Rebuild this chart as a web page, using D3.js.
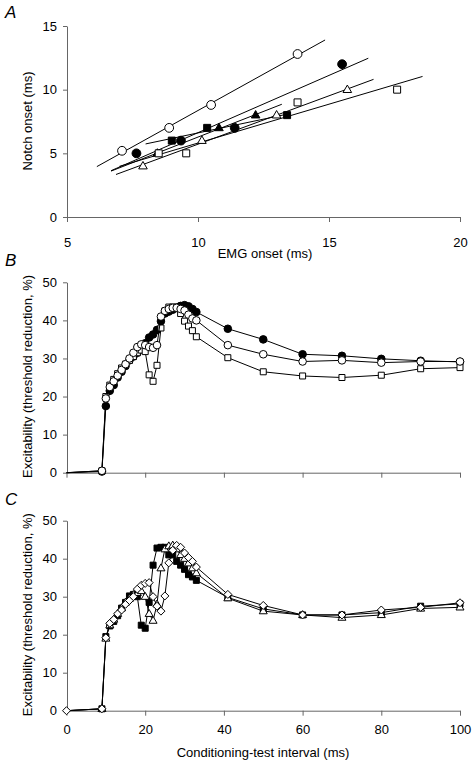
<!DOCTYPE html>
<html><head><meta charset="utf-8">
<script src="https://cdn.jsdelivr.net/npm/d3@7"></script>
<style>body{margin:0;background:#fff}svg{display:block}text{font-family:"Liberation Sans",Arial,Helvetica,sans-serif}</style>
</head><body>
<script>
// ---------- Panel A data ----------
const emgOpenCircle = [7.1, 8.9, 10.5, 13.8];
const notchOpenCircle = [5.2, 7.0, 8.8, 12.8];
const fitOpenCircle = [6.14, 14.85];
const emgFilledCircle = [7.65, 9.35, 11.4, 15.5];
const notchFilledCircle = [5.0, 6.0, 7.0, 12.0];
const fitFilledCircle = [6.68, 16.5];
const emgFilledSquare = [9.0, 10.35, 13.4];
const notchFilledSquare = [6.0, 7.0, 8.0];
const fitFilledSquare = [8.0, 13.5];
const emgFilledTriangle = [8.45, 10.8, 12.2];
const notchFilledTriangle = [5.0, 7.0, 8.0];
const fitFilledTriangle = [6.68, 13.2];
const emgOpenTriangle = [7.9, 10.15, 13.0, 15.7];
const notchOpenTriangle = [4.0, 6.0, 8.0, 10.0];
const fitOpenTriangle = [6.87, 16.7];
const emgOpenSquare = [8.5, 9.55, 13.8, 17.6];
const notchOpenSquare = [5.0, 5.0, 9.0, 10.0];
const fitOpenSquare = [7.0, 18.57];
const ticksAX = [5, 10, 15, 20];
const ticksAY = [0, 5, 10, 15];

// ---------- Panels B & C data ----------
const intervals = [0,9,10,11,12,13,14,15,16,17,18,19,20,21,22,23,24,25,26,27,28,29,30,31,32,33,41,50,60,70,80,90,100];
const bFilledCircle = [0,0.3,17.5,21.5,23,25,26.5,28,29.5,30.5,31.5,32.5,34,35.5,36.3,37.5,39.8,41.8,42.3,42.8,43.3,43.8,44,43.7,43,42.2,37.8,35,31.1,30.7,29.9,29.4,29.1];
const bOpenSquare = [0,0.5,20,23,24.5,26,27.5,28.5,29.5,30.5,31.5,32.2,31.8,25.7,24,28.2,38,42.5,43.5,43.5,43.5,41.8,39.8,38.5,37.3,35.7,30.2,26.5,25.4,25,25.6,27.3,27.6];
const bOpenCircle = [0,0.5,19.5,22.5,24,25.5,27,28.5,30,31.5,33,33.7,33.5,33,32.8,33.5,41,42.5,43,43.3,43.3,43,42.6,41.5,40.5,40,33.5,31.1,29.2,29.5,28.9,29.2,29.2];
const cFilledSquare = [0,0.5,19.5,22.3,23.5,25,27,28.5,30.2,30.6,30,22.5,21.7,28.5,38.3,42.8,43,43,41,41,39.3,38.3,37.2,35.8,35.2,34.3,29.8,26.8,25.2,25.2,25.8,27.5,28.1];
const cOpenTriangle = [0,0.5,19,22.5,24,25.5,27,28.5,29.5,30.5,31,31.5,30,25.5,23.7,28,37.5,42.5,43.3,43.5,42.5,41,40,38.8,37.5,36.2,29.6,26.2,25.2,24.5,25.2,26.9,27.2];
const cOpenDiamond = [0,0.5,19.2,23,24,25.5,26.5,28,29,30,32,33,33.5,33.7,30,27.5,26.2,30.2,38.9,42.2,43.5,43,41.5,40.3,39.3,37.8,30.6,27.7,25.2,25.2,26.5,27.2,28.4];
const ticksX = [0, 20, 40, 60, 80, 100];
const ticksY = [0, 10, 20, 30, 40, 50];

const W = 472, H = 762;
const svg = d3.select("body").append("svg").attr("width", W).attr("height", H);
svg.append("rect").attr("width", W).attr("height", H).attr("fill", "#fff");

const AX = "#666";
function marker(g, shape, x, y, s, fill) {
  let p;
  if (shape === "circle") {
    g.append("circle").attr("cx", x).attr("cy", y).attr("r", s).attr("fill", fill).attr("stroke", "#000").attr("stroke-width", 1);
    return;
  } else if (shape === "square") {
    p = `M${x-s},${y-s}H${x+s}V${y+s}H${x-s}Z`;
  } else if (shape === "triangle") {
    const h = s * 1.732;
    p = `M${x},${y - h*0.62}L${x+s},${y + h*0.38}L${x-s},${y + h*0.38}Z`;
  } else if (shape === "diamond") {
    p = `M${x},${y-s}L${x+s},${y}L${x},${y+s}L${x-s},${y}Z`;
  }
  g.append("path").attr("d", p).attr("fill", fill).attr("stroke", "#000").attr("stroke-width", 1);
}
function styleAxis(g) {
  g.selectAll("path.domain").attr("stroke", AX);
  g.selectAll(".tick line").attr("stroke", AX);
  g.selectAll(".tick text").attr("fill", "#000").style("font-size", "13px").attr("font-family", "Liberation Sans, Arial, sans-serif");
}

// ---------- Panel A ----------
const xA = d3.scaleLinear().domain([5, 20]).range([67, 460]);
const yA = d3.scaleLinear().domain([0, 15]).range([217, 26]);
const gAx = svg.append("g").attr("transform", "translate(0,217)")
  .call(d3.axisBottom(xA).tickValues(ticksAX).tickSize(5).tickSizeOuter(0).tickPadding(16));
styleAxis(gAx);
const gAy = svg.append("g").attr("transform", "translate(67,0)")
  .call(d3.axisLeft(yA).tickValues(ticksAY).tickSize(4).tickSizeOuter(0).tickPadding(6));
styleAxis(gAy);

const seriesA = [
  {x: emgOpenCircle, y: notchOpenCircle, fit: fitOpenCircle, shape: "circle", fill: "#fff", s: 4.4},
  {x: emgFilledCircle, y: notchFilledCircle, fit: fitFilledCircle, shape: "circle", fill: "#000", s: 4.4},
  {x: emgFilledSquare, y: notchFilledSquare, fit: fitFilledSquare, shape: "square", fill: "#000", s: 3.5},
  {x: emgFilledTriangle, y: notchFilledTriangle, fit: fitFilledTriangle, shape: "triangle", fill: "#000", s: 4.3},
  {x: emgOpenTriangle, y: notchOpenTriangle, fit: fitOpenTriangle, shape: "triangle", fill: "#fff", s: 4.3},
  {x: emgOpenSquare, y: notchOpenSquare, fit: fitOpenSquare, shape: "square", fill: "#fff", s: 3.5},
];
function linfit(xs, ys) {
  const n = xs.length, mx = d3.mean(xs), my = d3.mean(ys);
  let sxy = 0, sxx = 0;
  for (let i = 0; i < n; i++) { sxy += (xs[i]-mx)*(ys[i]-my); sxx += (xs[i]-mx)**2; }
  const b = sxy / sxx; return [my - b*mx, b];
}
const gA = svg.append("g");
seriesA.forEach(s => {
  const [a, b] = linfit(s.x, s.y);
  gA.append("line").attr("x1", xA(s.fit[0])).attr("y1", yA(a + b*s.fit[0]))
    .attr("x2", xA(s.fit[1])).attr("y2", yA(a + b*s.fit[1])).attr("stroke", "#000").attr("stroke-width", 1);
});
seriesA.forEach(s => s.x.forEach((v, i) => marker(gA, s.shape, xA(v), yA(s.y[i]), s.s, s.fill)));

svg.append("text").attr("x", 5).attr("y", 18).text("A").style("font-size", "17px").style("font-style", "italic");
svg.append("text").attr("transform", "translate(32,121) rotate(-90)").attr("text-anchor", "middle").style("font-size", "13px").text("Notch onset (ms)");
svg.append("text").attr("x", 265).attr("y", 258).attr("text-anchor", "middle").style("font-size", "13px").text("EMG onset (ms)");

// ---------- Panels B & C ----------
const xB = d3.scaleLinear().domain([0, 100]).range([66.5, 460]);
function excPanel(top, bottom, series, letterY, showLabels) {
  const y = d3.scaleLinear().domain([0, 50]).range([bottom, top]);
  const gx = svg.append("g").attr("transform", `translate(0,${bottom})`)
    .call(d3.axisBottom(xB).tickValues(ticksX).tickSize(5).tickSizeOuter(0).tickPadding(9)
      .tickFormat(showLabels ? d3.format("d") : () => ""));
  styleAxis(gx);
  const gy = svg.append("g").attr("transform", "translate(67,0)")
    .call(d3.axisLeft(y).tickValues(ticksY).tickSize(4).tickSizeOuter(0).tickPadding(6));
  styleAxis(gy);
  const line = d3.line().x((d) => xB(d[0])).y((d) => y(d[1]));
  const g = svg.append("g");
  series.forEach(s => {
    const pts = intervals.map((v, i) => [v, s.v[i]]);
    g.append("path").attr("d", line(pts)).attr("fill", "none").attr("stroke", "#000").attr("stroke-width", 1);
    pts.forEach(p => { if (p[0] > 0 || s.zero) marker(g, s.shape, xB(p[0]), y(p[1]), s.s, s.fill); });
  });
  svg.append("text").attr("x", 5).attr("y", letterY).style("font-size", "17px").style("font-style", "italic").text(series.letter);
  svg.append("text").attr("transform", `translate(32,${(top + bottom) / 2 - 1}) rotate(-90)`).attr("text-anchor", "middle")
    .style("font-size", "13px").text("Excitability (threshold reduction, %)");
}
const seriesB = [
  {v: bFilledCircle, shape: "circle", fill: "#000", s: 3.8},
  {v: bOpenSquare, shape: "square", fill: "#fff", s: 3},
  {v: bOpenCircle, shape: "circle", fill: "#fff", s: 3.8},
];
seriesB.letter = "B";
excPanel(282.3, 472.7, seriesB, 266, false);
const seriesC = [
  {v: cFilledSquare, shape: "square", fill: "#000", s: 3},
  {v: cOpenTriangle, shape: "triangle", fill: "#fff", s: 4},
  {v: cOpenDiamond, shape: "diamond", fill: "#fff", s: 4, zero: true},
];
seriesC.letter = "C";
excPanel(520.7, 710.7, seriesC, 505, true);
svg.append("text").attr("x", 263).attr("y", 757).attr("text-anchor", "middle").style("font-size", "13px").text("Conditioning-test interval (ms)");
</script>
</body></html>
